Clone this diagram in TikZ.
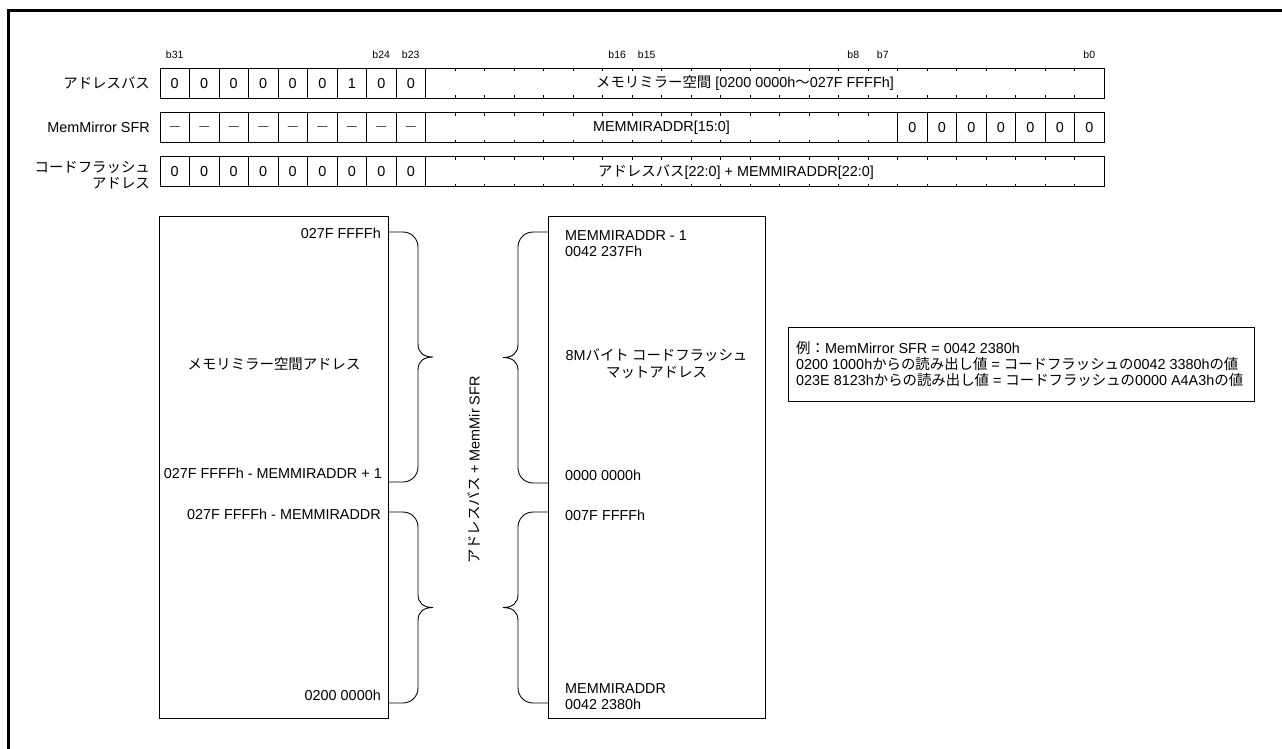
\documentclass[tikz,border=0pt]{standalone}
\usepackage{fontspec}
\setmainfont{Liberation Sans}
\newfontfamily\jpf{Noto Sans CJK JP}
\newcommand\jp[1]{{\jpf #1}}
\usetikzlibrary{calc}
\tikzset{
  every node/.style={font=\fontsize{14.4}{16.5}\selectfont},
  cell/.style={draw, line width=0.9pt, minimum width=29.5, minimum height=30, inner sep=0pt},
  fieldbox/.style={draw, line width=0.9pt, minimum height=30, inner sep=0pt},
  bitlab/.style={font=\fontsize{10.5}{12}\selectfont, inner sep=0pt},
  blk/.style={draw, line width=0.9pt, anchor=north west, inner sep=0pt},
  brc/.style={line width=0.9pt},
  tick/.style={line width=0.9pt},
  lab/.style={inner sep=0pt},
}
\newcommand\bracefig[3]{%
 \draw[brc] let \p1=(#1), \p2=(#2) in
 (\p1) -- ({\x1+(#3)*15pt},\y1)
 .. controls ({\x1+(#3)*23.3pt},\y1) and ({\x1+(#3)*30pt},{\y1-6.7pt}) .. ({\x1+(#3)*30pt},{\y1-15pt})
 -- ({\x1+(#3)*30pt},{0.5*(\y1+\y2)+13pt})
 .. controls ({\x1+(#3)*30pt},{0.5*(\y1+\y2)+4pt}) and ({\x1+(#3)*36pt},{0.5*(\y1+\y2)}) .. ({\x1+(#3)*45pt},{0.5*(\y1+\y2)})
 .. controls ({\x1+(#3)*36pt},{0.5*(\y1+\y2)}) and ({\x1+(#3)*30pt},{0.5*(\y1+\y2)-4pt}) .. ({\x1+(#3)*30pt},{0.5*(\y1+\y2)-13pt})
 -- ({\x2+(#3)*30pt},{\y2+15pt})
 .. controls ({\x2+(#3)*30pt},{\y2+6.7pt}) and ({\x2+(#3)*23.3pt},\y2) .. ({\x2+(#3)*15pt},\y2)
 -- (\p2);}
\begin{document}
\begin{tikzpicture}[x=1pt,y=-1pt]
\useasboundingbox (0,0) rectangle (1282,749);
\draw[line width=3pt] (8.5,749) -- (8.5,11) -- (1282,11);

% row labels
\node[lab, anchor=east] (L1) at (150,83.3) {\jp{アドレスバス}};
\node[lab, anchor=east] (L2) at (150,127.7) {MemMirror SFR};
\node[lab, anchor=east, align=right] (L3) at (150,175.5) {\jp{コードフラッシュ}\\\jp{アドレス}};

% bit labels
\foreach \b in {31,24,23,16,15,8,7,0}
  \node[bitlab] (bl\b) at ({160+(31-\b+0.5)*29.5},55) {b\b};

% row 1
\foreach \b/\v in {31/0,30/0,29/0,28/0,27/0,26/0,25/1,24/0,23/0}
  \node[cell] (ra\b) at ({160+(31-\b+0.5)*29.5},83.3) {\v};
\node[fieldbox, minimum width=678.5] (raf) at (764.75,83.3) {};
\foreach \j in {10,...,31} {
  \draw[tick] ({160+\j*29.5},68.3) -- ++(0,3);
  \draw[tick] ({160+\j*29.5},98.3) -- ++(0,-3);
}
\node[lab] (rat) at (745,83.3) {\jp{メモリミラー空間} [0200 0000h\jp{～}027F FFFFh]};

% row 2
\foreach \b in {31,30,29,28,27,26,25,24,23}
  \node[cell] (rb\b) at ({160+(31-\b+0.5)*29.5},127.7) {\fontsize{10}{12}\selectfont —};
\node[fieldbox, minimum width=472] (rbf) at (661.5,127.7) {MEMMIRADDR[15:0]};
\foreach \j in {10,...,24} {
  \draw[tick] ({160+\j*29.5},112.7) -- ++(0,3);
  \draw[tick] ({160+\j*29.5},142.7) -- ++(0,-3);
}
\foreach \b in {6,5,4,3,2,1,0}
  \node[cell] (rb\b) at ({160+(31-\b+0.5)*29.5},127.7) {0};

% row 3
\foreach \b in {31,30,29,28,27,26,25,24,23}
  \node[cell] (rc\b) at ({160+(31-\b+0.5)*29.5},171.7) {0};
\node[fieldbox, minimum width=678.5] (rcf) at (764.75,171.7) {};
\foreach \j in {10,...,31} {
  \draw[tick] ({160+\j*29.5},156.7) -- ++(0,3);
  \draw[tick] ({160+\j*29.5},186.7) -- ++(0,-3);
}
\node[lab] (rct) at (736,171.7) {\jp{アドレスバス}[22:0] + MEMMIRADDR[22:0]};

% blocks
\node[blk, minimum width=229, minimum height=502] (LB) at (159,216) {};
\node[blk, minimum width=217, minimum height=502] (RB) at (548,216) {};

\node[lab, anchor=east] (la1) at (381,233) {027F FFFFh};
\node[lab] (lam) at (274,364) {\jp{メモリミラー空間アドレス}};
\node[lab, anchor=east] (la2) at (382,473) {027F FFFFh - MEMMIRADDR + 1};
\node[lab, anchor=east] (la3) at (381,514) {027F FFFFh - MEMMIRADDR};
\node[lab, anchor=east] (la4) at (381,695) {0200 0000h};

\node[lab, anchor=west, align=left] (rt1) at (565,243.5) {MEMMIRADDR - 1\\0042 237Fh};
\node[lab, align=center] (rtm) at (656.5,363.5) {8M\jp{バイト コードフラッシュ}\\\jp{マットアドレス}};
\node[lab, anchor=west] (rt2) at (565,475) {0000 0000h};
\node[lab, anchor=west] (rt3) at (565,515) {007F FFFFh};
\node[lab, anchor=west, align=left] (rt4) at (565,696.5) {MEMMIRADDR\\0042 2380h};

\node[lab, rotate=90] (rot) at (474,470) {\jp{アドレスバス} + MemMir SFR};

% braces
\coordinate (p1a) at (388,232);
\coordinate (p1b) at (388,482);
\coordinate (p2a) at (388,512);
\coordinate (p2b) at (388,703);
\coordinate (p3a) at (548,232);
\coordinate (p3b) at (548,483);
\coordinate (p4a) at (548,512);
\coordinate (p4b) at (548,703);
\bracefig{p1a}{p1b}{1}
\bracefig{p2a}{p2b}{1}
\bracefig{p3a}{p3b}{-1}
\bracefig{p4a}{p4b}{-1}

% example box
\node[blk, minimum width=466, minimum height=74] (EX) at (788,327) {};
\node[lab, anchor=west, align=left, font=\fontsize{14.4}{16}\selectfont] (ext) at (796,364)
 {\jp{例：}MemMirror SFR = 0042 2380h\\0200 1000h\jp{からの読み出し値} = \jp{コードフラッシュの}0042 3380h\jp{の値}\\023E 8123h\jp{からの読み出し値} = \jp{コードフラッシュの}0000 A4A3h\jp{の値}};
\end{tikzpicture}
\end{document}
